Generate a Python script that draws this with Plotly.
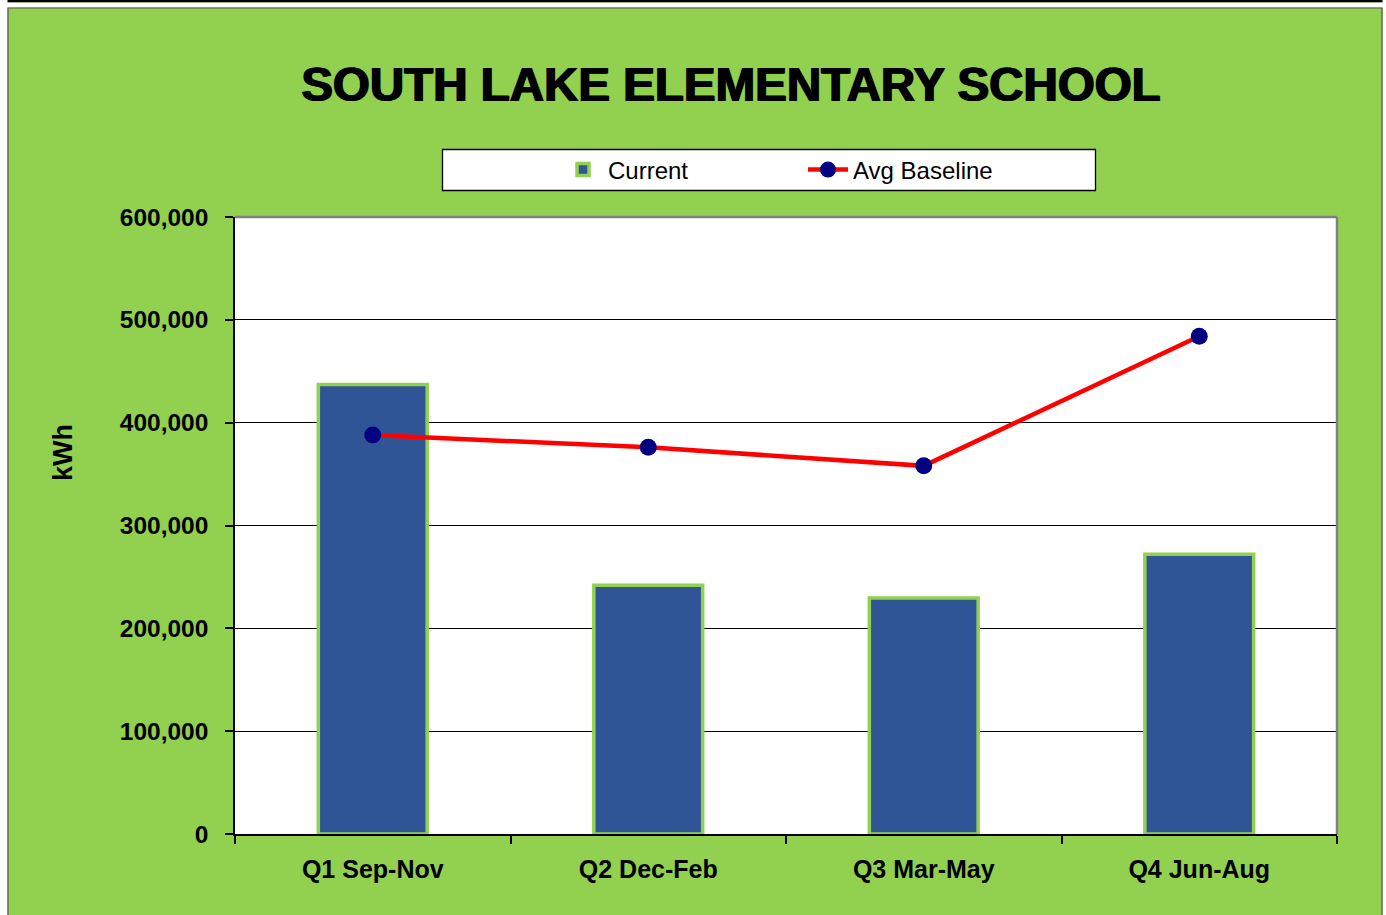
import plotly.graph_objects as go

categories = ["Q1 Sep-Nov", "Q2 Dec-Feb", "Q3 Mar-May", "Q4 Jun-Aug"]
current = [437000, 242000, 229500, 272000]
avg_baseline = [388000, 376000, 358000, 484000]
y_ticks = [0, 100000, 200000, 300000, 400000, 500000, 600000]

W, H = 1386, 915
L, R, T, B = 235, 1337, 217, 834

def px(x):
    return (x - L) / (R - L)

def py(y):
    return (B - y) / (B - T)

GREEN = "#92D050"
SANS = "Liberation Sans, Arial, sans-serif"

fig = go.Figure()
fig.add_trace(go.Bar(
    x=categories, y=current, name="Current",
    marker=dict(color="#2F5597", line=dict(color=GREEN, width=3.5)),
    width=0.395,
))
fig.add_trace(go.Scatter(
    x=categories, y=avg_baseline, name="Avg Baseline",
    mode="lines+markers",
    line=dict(color="#FF0000", width=4.5),
    marker=dict(color="#000080", size=17),
))

shapes = [
    dict(type="rect", xref="paper", yref="paper", x0=px(0), x1=px(W), y0=py(0), y1=py(2.5),
         fillcolor="black", line=dict(width=0), layer="below"),
    dict(type="rect", xref="paper", yref="paper", x0=px(0), x1=px(W), y0=py(2.5), y1=py(7.5),
         fillcolor="white", line=dict(width=0), layer="below"),
    dict(type="rect", xref="paper", yref="paper", x0=px(0), x1=px(7.5), y0=py(0), y1=py(H),
         fillcolor="white", line=dict(width=0), layer="below"),
    dict(type="rect", xref="paper", yref="paper", x0=px(1382.5), x1=px(W), y0=py(0), y1=py(H),
         fillcolor="white", line=dict(width=0), layer="below"),
    dict(type="rect", xref="paper", yref="paper", x0=px(8), x1=px(1382), y0=py(8), y1=py(H + 10),
         fillcolor="rgba(0,0,0,0)", line=dict(color="#555555", width=1.2), layer="below"),
    dict(type="rect", xref="paper", yref="paper", x0=px(442.5), x1=px(1095.5), y0=py(149.5), y1=py(190.5),
         fillcolor="white", line=dict(color="black", width=1.3), layer="below"),
    dict(type="line", xref="paper", yref="paper", x0=0, x1=1, y0=1, y1=1,
         line=dict(color="#808080", width=2.5), layer="above"),
    dict(type="line", xref="paper", yref="paper", x0=1, x1=1, y0=0, y1=1,
         line=dict(color="#808080", width=2.5), layer="above"),
]

fig.update_layout(
    width=W, height=H,
    margin=dict(l=L, r=W - R, t=T, b=H - B, pad=0),
    paper_bgcolor=GREEN,
    plot_bgcolor="white",
    bargap=0.59,
    title=dict(
        text="<b>SOUTH LAKE ELEMENTARY SCHOOL</b>",
        x=731 / W, xref="container", xanchor="center",
        y=1 - 84 / H, yref="container", yanchor="middle",
        font=dict(family=SANS, size=47.5, color="black",
                  shadow="0.9px 0 0 #000, -0.9px 0 0 #000"),
    ),
    legend=dict(
        orientation="h",
        x=px(558), y=py(170), xanchor="left", yanchor="middle",
        bgcolor="rgba(0,0,0,0)",
        font=dict(family=SANS, size=24, color="black"),
        entrywidth=190, entrywidthmode="pixels",
        itemwidth=40,
    ),
    showlegend=True,
    shapes=shapes,
    annotations=[dict(
        text="<b>kWh</b>", textangle=-90, xref="paper", yref="paper",
        x=px(63), y=py(453), xanchor="center", yanchor="middle", showarrow=False,
        font=dict(family=SANS, size=27, color="black"),
    )],
    xaxis=dict(
        type="category",
        showline=True, linecolor="black", linewidth=1.5,
        ticks="outside", tickson="boundaries", ticklen=8, tickcolor="black", tickwidth=1.5,
        tickfont=dict(family=SANS, size=25, color="black", weight="bold"),
        ticklabelstandoff=12,
        showgrid=False,
    ),
    yaxis=dict(
        range=[0, 600000],
        tickvals=y_ticks,
        tickformat=",",
        showline=True, linecolor="black", linewidth=1.5,
        ticks="outside", ticklen=8, tickcolor="black", tickwidth=1.5,
        tickfont=dict(family=SANS, size=24.5, color="black", weight="bold"),
        ticklabelstandoff=12,
        showgrid=True, gridcolor="black", gridwidth=1,
        zeroline=False,
    ),
)

fig.write_html("out.html", config={"displayModeBar": False},
               post_script="document.body.style.margin='0';document.body.style.overflow='hidden';")
